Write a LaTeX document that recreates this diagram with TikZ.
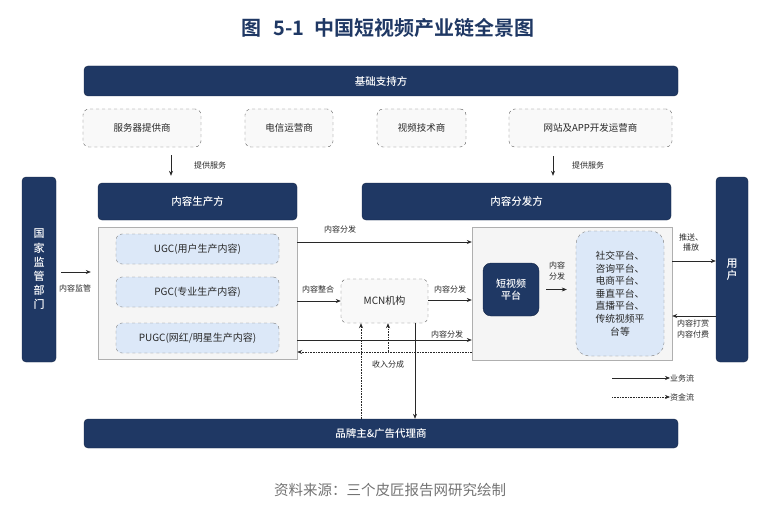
\documentclass[tikz,border=0pt]{standalone}
\usepackage{fontspec}
\setmainfont{Noto Sans CJK SC}[BoldFont={Noto Sans CJK SC Bold}]
\newfontfamily\cnmedium{Noto Sans CJK SC Medium}
\usetikzlibrary{arrows.meta}
\definecolor{cnnavy}{RGB}{31,56,100}
\definecolor{cnsky}{RGB}{220,232,248}
\definecolor{cnpale}{RGB}{245,245,245}
\definecolor{cnedge}{RGB}{175,175,175}
\definecolor{cntext}{RGB}{40,40,40}
\definecolor{cngray}{RGB}{90,90,90}

\tikzset{
  bar/.style={draw=cnnavy!70!black, fill=cnnavy, rounded corners=4pt, text=white,
    inner sep=0pt, align=center, font=\cnmedium\fontsize{10.5}{14}\selectfont},
  supplier/.style={draw=cngray, dashed, fill=cnpale!60!white, rounded corners=6pt,
    text=cntext, inner sep=0pt, font=\fontsize{9.5}{12}\selectfont},
  holder/.style={draw=cnedge, fill=cnpale, inner sep=0pt},
  kind/.style={draw=cngray!80, dashed, fill=cnsky, rounded corners=6pt, text=cntext,
    inner sep=0pt, minimum width=163pt, minimum height=30pt, font=\fontsize{10}{12}\selectfont},
  lbl/.style={text=cntext, inner sep=0pt, align=center, font=\fontsize{8}{10.5}\selectfont},
  flow/.style={draw=cntext, line width=0.6pt, -{Stealth[length=5pt,width=4pt]}},
  money/.style={flow, densely dotted}
}

\begin{document}
\begin{tikzpicture}[x=1pt,y=-1pt]
  \useasboundingbox (0,0) rectangle (776,508);

  \node[text=cnnavy, font=\fontsize{20}{24}\selectfont\bfseries] (ttl) at (388,28)
    {图\hspace{0.6em}5-1\hspace{0.5em}中国短视频产业链全景图};

  \node[bar, minimum width=594pt, minimum height=30pt] (base) at (381,81) {基础支持方};
  \node[supplier, minimum width=118pt, minimum height=38pt] (server) at (142,128) {服务器提供商};
  \node[supplier, minimum width=88pt, minimum height=38pt] (telecom) at (289,128) {电信运营商};
  \node[supplier, minimum width=89pt, minimum height=38pt] (tech) at (421.5,128) {视频技术商};
  \node[supplier, minimum width=163pt, minimum height=38pt] (webapp) at (590.5,128) {网站及APP开发运营商};

  \node[bar, minimum width=199pt, minimum height=37pt] (prodbar) at (197.5,201.5) {内容生产方};
  \node[bar, minimum width=309pt, minimum height=37pt] (distbar) at (516.5,201.5) {内容分发方};
  \node[bar, minimum width=34pt, minimum height=185pt, font=\cnmedium\fontsize{11}{14.2}\selectfont] (gov) at (39,269.5)
    {国\\家\\监\\管\\部\\门};
  \node[bar, minimum width=32pt, minimum height=185pt, font=\cnmedium\fontsize{11}{12.5}\selectfont] (user) at (732,269.5)
    {用\\户};
  \node[bar, minimum width=594pt, minimum height=29pt] (brand) at (381,433.5) {品牌主\&广告代理商};

  \node[holder, minimum width=199pt, minimum height=132pt] (prod) at (197.5,293) {};
  \node[kind] (ugc) at (197.5,249) {UGC(用户生产内容)};
  \node[kind] (pgc) at (197.5,292) {PGC(专业生产内容)};
  \node[kind] (pugc) at (197.5,338) {PUGC(网红/明星生产内容)};

  \node[holder, minimum width=200pt, minimum height=133pt] (dist) at (572,293.5) {};
  \node[bar, rounded corners=8pt, minimum width=56pt, minimum height=53pt, font=\cnmedium\fontsize{10}{12.5}\selectfont]
    (svp) at (511,289.5) {短视频\\平台};
  \node[kind, rounded corners=13pt, minimum width=88pt, minimum height=125pt, align=center,
    font=\fontsize{9.8}{12.6}\selectfont] (plat) at (620,293.5)
    {社交平台、\\咨询平台、\\电商平台、\\垂直平台、\\直播平台、\\传统视频平\\台等};

  \node[supplier, minimum width=87pt, minimum height=44pt, font=\fontsize{10}{12}\selectfont] (mcn) at (384.5,301) {MCN机构};

  \draw[flow, shorten <=8pt, shorten >=7pt] (server.south -| 171,0) -- (prodbar.north -| 171,0);
  \node[lbl, anchor=west] (svc1) at (194,165) {提供服务};
  \draw[flow, shorten <=9pt, shorten >=7pt] (webapp.south -| 553,0) -- (distbar.north -| 553,0);
  \node[lbl, anchor=west] (svc2) at (572,165) {提供服务};

  \draw[flow, shorten <=5pt, shorten >=7pt] (gov.east |- 0,272) -- (prod.west |- 0,272);
  \node[lbl] (watch) at (75,288) {内容监管};

  \draw[flow] (prod.east |- 0,242) -- (dist.west |- 0,242);
  \node[lbl] (d1) at (340,229) {内容分发};
  \draw[flow] (prod.east |- mcn) -- (mcn.west);
  \node[lbl] (merge) at (318,289) {内容整合};
  \draw[flow] (mcn.east |- 0,300) -- (dist.west |- 0,300);
  \node[lbl] (d2) at (450,289) {内容分发};
  \draw[flow] (prod.east |- 0,340) -- (dist.west |- 0,340);
  \node[lbl] (d3) at (447,334) {内容分发};
  \draw[money] (dist.west |- 0,352) -- (prod.east |- 0,352);
  \coordinate (split) at (388,352);
  \draw[money] (split) -- (mcn.south -| split);
  \draw[money] (brand.north -| 361,0) -- (mcn.south -| 361,0);
  \draw[flow] (mcn.south -| 415,0) -- (brand.north -| 415,0);
  \node[lbl] (share) at (388,364) {收入分成};

  \draw[flow, shorten <=7pt, shorten >=9pt] (svp.east) -- (plat.west |- svp);
  \node[lbl] (d4) at (557,271) {内容\\分发};
  \draw[flow] (dist.east |- 0,261) -- (user.west |- 0,261);
  \node[lbl] (push) at (691,242.5) {推送、\\播放};
  \draw[flow] (user.west |- 0,316) -- (dist.east |- 0,316);
  \node[lbl] (pay) at (693,329) {内容打赏\\内容付费};

  \coordinate (k1) at (612,378);
  \coordinate (k2) at (670,378);
  \coordinate (k3) at (612,397);
  \coordinate (k4) at (670,397);
  \draw[flow] (k1) -- (k2);
  \draw[money] (k3) -- (k4);
  \node[lbl, anchor=west] (kbiz) at (k2) {业务流};
  \node[lbl, anchor=west] (kcash) at (k4) {资金流};

  \node[text=cngray!85, font=\fontsize{14.5}{17}\selectfont] (src) at (390,490) {资料来源：三个皮匠报告网研究绘制};
\end{tikzpicture}
\end{document}
